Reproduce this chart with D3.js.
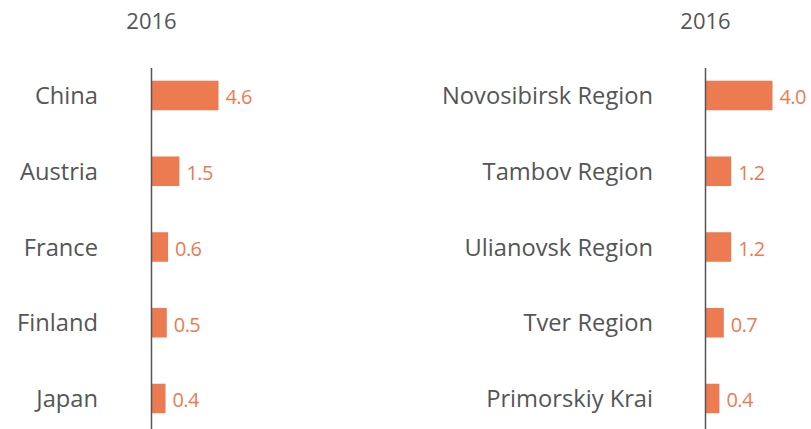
<!DOCTYPE html>
<html>
<head>
<meta charset="utf-8">
<script src="https://cdn.jsdelivr.net/npm/d3@7"></script>
<style>
  body { margin: 0; background: #fff; }
  svg { display: block; }
</style>
</head>
<body>
<div id="container"></div>
<script>
let w = 811;
let h = 429;

// data
let year = "2016";
let countries = ["China", "Austria", "France", "Finland", "Japan"];
let countryValues = [4.6, 1.5, 0.6, 0.5, 0.4];
let regions = ["Novosibirsk Region", "Tambov Region", "Ulianovsk Region", "Tver Region", "Primorskiy Krai"];
let regionValues = [4.0, 1.2, 1.2, 0.7, 0.4];

let barColor = "#ec7b52";
let textColor = "#555";
let font = "'Open Sans', sans-serif";

let viz = d3.select("#container").append("svg")
    .attr("width", w)
    .attr("height", h)
    .style("background-color", "white")
;

function drawPanel(axisX, labelX, cats, vals, minW) {
  let g = viz.append("g");

  let yScale = d3.scaleBand().domain(cats).range([58, 436]).paddingInner(0.61).paddingOuter(0.3);
  let xScale = d3.scaleLinear().domain([0, d3.max(vals)]).range([minW, 67]);

  // year title
  g.append("text")
      .attr("x", axisX)
      .attr("y", 29)
      .attr("text-anchor", "middle")
      .attr("font-family", font)
      .attr("font-size", 22)
      .attr("fill", textColor)
      .text(year)
  ;

  let rows = g.selectAll(".row").data(cats.map((c, i) => ({cat: c, val: vals[i]}))).enter()
    .append("g")
      .attr("class", "row")
      .attr("transform", d => "translate(0," + yScale(d.cat) + ")")
  ;

  rows.append("rect")
      .attr("x", axisX)
      .attr("y", 0)
      .attr("width", d => xScale(d.val))
      .attr("height", yScale.bandwidth())
      .attr("fill", barColor)
  ;

  rows.append("text")
      .attr("x", labelX)
      .attr("y", yScale.bandwidth() / 2)
      .attr("dy", "0.36em")
      .attr("text-anchor", "end")
      .attr("font-family", font)
      .attr("font-size", 23.7)
      .attr("fill", textColor)
      .text(d => d.cat)
  ;

  rows.append("text")
      .attr("x", d => axisX + xScale(d.val) + 7)
      .attr("y", yScale.bandwidth() / 2)
      .attr("dy", "0.45em")
      .attr("font-family", font)
      .attr("font-size", 20)
      .attr("letter-spacing", "-0.6")
      .attr("fill", barColor)
      .text(d => d.val.toFixed(1))
  ;

  // axis line
  g.append("line")
      .attr("x1", axisX).attr("x2", axisX)
      .attr("y1", 68).attr("y2", h)
      .attr("stroke", "#555")
      .attr("stroke-width", 1.5)
  ;
}

drawPanel(151.5, 98, countries, countryValues, 9);
drawPanel(705.5, 653, regions, regionValues, 8);
</script>
</body>
</html>
